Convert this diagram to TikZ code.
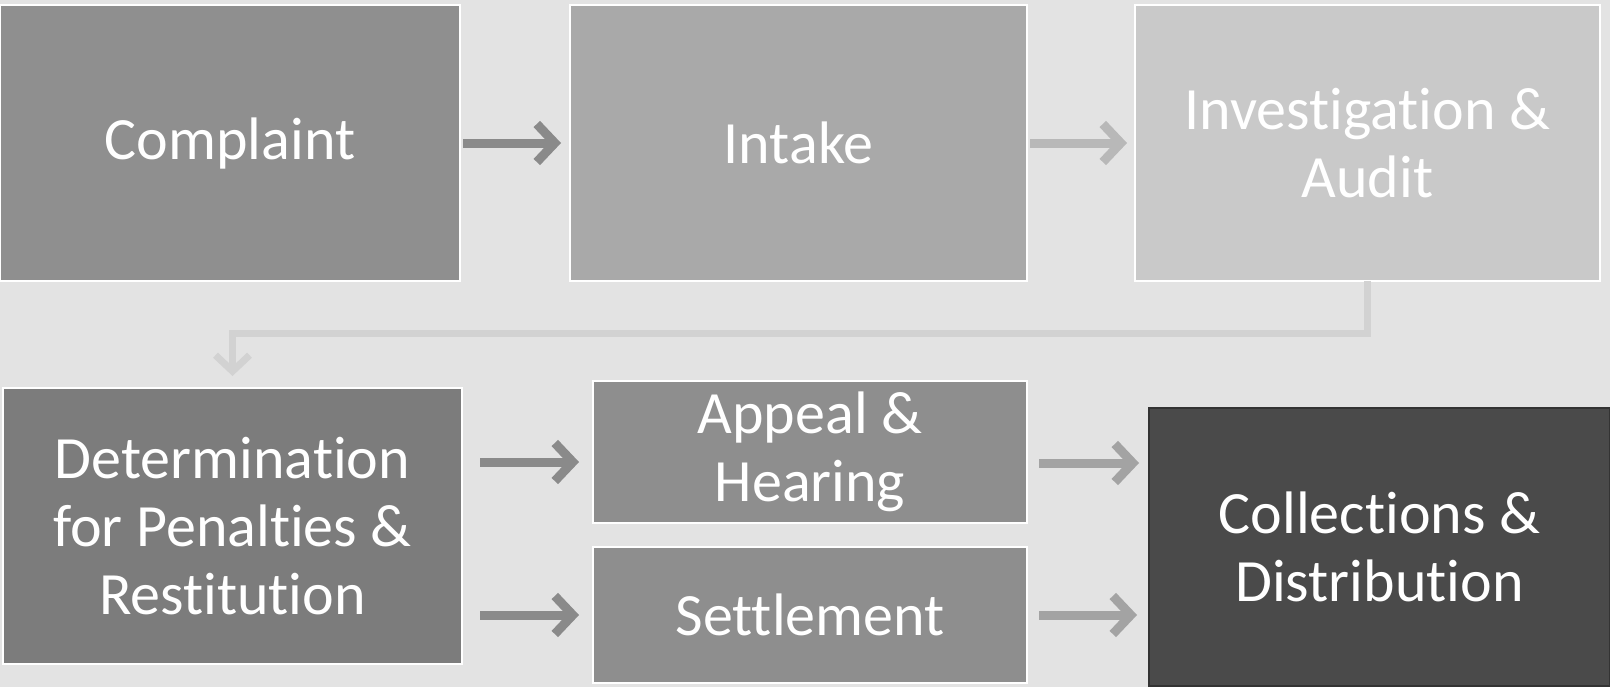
\documentclass[tikz,border=0pt]{standalone}
\usepackage{fontspec}
\setmainfont{Carlito}[Ligatures={NoCommon,NoContextual}]
\usetikzlibrary{arrows.meta,calc}
\definecolor{bgcol}{HTML}{E3E3E3}
\definecolor{cComplaint}{HTML}{8F8F8F}
\definecolor{cIntake}{HTML}{A9A9A9}
\definecolor{cInvest}{HTML}{C9C9C9}
\definecolor{cDeterm}{HTML}{7C7C7C}
\definecolor{cAppeal}{HTML}{8E8E8E}
\definecolor{cSettle}{HTML}{8E8E8E}
\definecolor{cCollect}{HTML}{4A4A4A}
\definecolor{aDark}{HTML}{8A8A8A}
\definecolor{aLight}{HTML}{B8B8B8}
\definecolor{aMid}{HTML}{A3A3A3}
\definecolor{aFaint}{HTML}{D2D2D2}
\begin{document}
\begin{tikzpicture}[x=0.5pt,y=-0.5pt,
  stage/.style={rectangle, inner sep=0pt, outer sep=0pt, draw=white,
    line width=1pt, text=white, align=center,
    font=\fontsize{30}{34}\selectfont},
  flow/.style={line width=4.5pt,
    -{Straight Barb[length=9pt,width=19pt,line width=4.5pt]}},
  bendflow/.style={line width=3.5pt, color=aFaint,
    -{Straight Barb[length=8pt,width=17pt,line width=3.5pt]}}]

% page background
\fill[bgcol] (0,0) rectangle (1610,687);
\useasboundingbox (0,0) rectangle (1610,687);

% first row
\node[stage, fill=cComplaint, minimum width=230pt, minimum height=138pt]
  (cmp) at (230,143) {Complaint};
\node[stage, fill=cIntake, minimum width=228.5pt, minimum height=138pt]
  (itk) at (798.5,143) {Intake};
\node[stage, fill=cInvest, minimum width=232.5pt, minimum height=138pt]
  (inv) at (1367.5,143) {Investigation \&\\Audit};

% second row
\node[stage, fill=cDeterm, minimum width=229.5pt, minimum height=138pt]
  (det) at (232.5,526) {Determination\\for Penalties \&\\Restitution};
\node[stage, fill=cAppeal, minimum width=217pt, minimum height=71pt]
  (app) at (810,452) {Appeal \&\\Hearing};
\node[stage, fill=cSettle, minimum width=217pt, minimum height=68pt]
  (set) at (810,615) {Settlement};
\node[stage, fill=cCollect, draw=black!80, line width=0.6pt,
  minimum width=230.5pt, minimum height=139pt]
  (col) at (1379.5,547) {Collections \&\\Distribution};

% connectors along the first row
\draw[flow, aDark, shorten <=1.5pt, shorten >=4.5pt] (cmp) -- (itk);
\draw[flow, aLight, shorten <=1.5pt, shorten >=4pt] (itk) -- (inv);

% wrap-around from the first row to the second
\draw[bendflow, shorten >=6pt] (inv.south) -- ++(0,52) -| (det.north);

% connectors along the second row
\draw[flow, aDark, shorten <=9pt, shorten >=7pt]
  ($(det.east |- app.west)+(0,10)$) -- ($(app.west)+(0,10)$);
\draw[flow, aDark, shorten <=9pt, shorten >=7pt]
  (det.east |- set.west) -- (set.west);
\draw[flow, aMid, shorten <=6pt, shorten >=5pt]
  ($(app.east)+(0,11)$) -- ($(app.east -| col.west)+(0,11)$);
\draw[flow, aMid, shorten <=6pt, shorten >=6pt]
  (set.east) -- (set.east -| col.west);
\end{tikzpicture}
\end{document}
